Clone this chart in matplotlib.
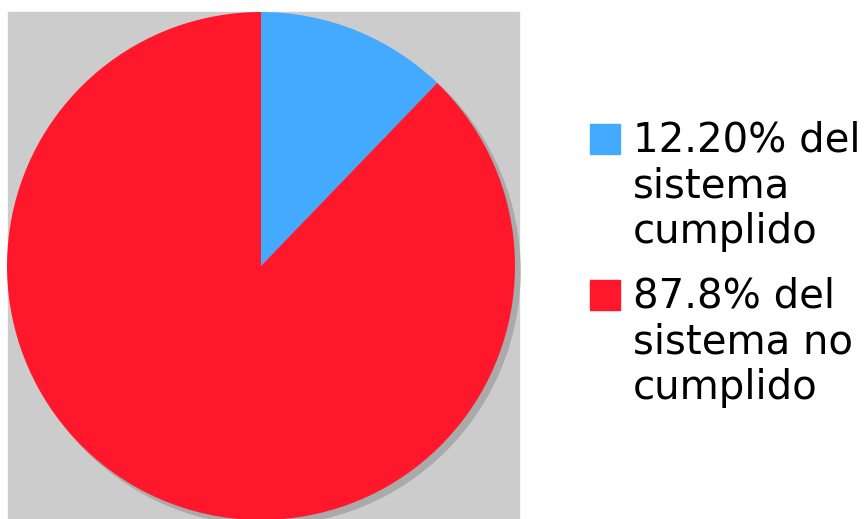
import matplotlib.pyplot as plt
from matplotlib.patches import Circle, Rectangle

# porcentaje del sistema
valores = [12.20, 87.8]
etiquetas = ['12.20% del\nsistema\ncumplido', '87.8% del\nsistema no\ncumplido']
colores = ['#44aaff', '#ff182c']

W, H = 866, 519
fig = plt.figure(figsize=(W / 100, H / 100), dpi=100)
ax = fig.add_axes([0, 0, 1, 1])
ax.set_xlim(0, W)
ax.set_ylim(0, H)
ax.set_aspect('equal')
ax.axis('off')

# fondo gris y sombra del pastel
ax.add_patch(Rectangle((8, 0), 511, H - 12, color='#cccccc', zorder=0))
ax.add_patch(Circle((266, H - 271), 254, color='#aaaaaa', zorder=1))

ax.pie(valores, colors=colores, startangle=90, counterclock=False,
       center=(261, H - 266), radius=254, wedgeprops={'linewidth': 0, 'zorder': 2})
ax.set_xlim(0, W)
ax.set_ylim(0, H)

# leyenda
y_top = [124, 280]
for color, texto, yt in zip(colores, etiquetas, y_top):
    ax.add_patch(Rectangle((590, H - yt - 30), 30, 30, color=color))
    ax.text(633, H - yt + 3, texto, fontsize=29, va='top', ha='left',
            linespacing=1.17, color='black')

fig.savefig('out.png', dpi=100)
